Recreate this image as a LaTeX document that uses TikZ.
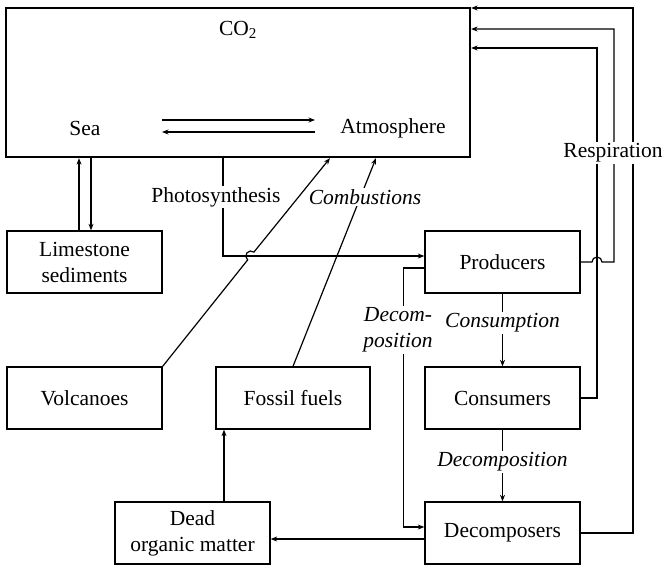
\documentclass[tikz,border=0pt]{standalone}
\usepackage{fontspec}
\setmainfont{Liberation Serif}
\usetikzlibrary{arrows.meta}
\begin{document}
\begin{tikzpicture}[x=1pt,y=-1pt,
  every node/.style={font=\fontsize{21.5}{26}\selectfont, inner sep=1pt},
  box/.style={draw, line width=1.3pt, minimum width=155pt, minimum height=62pt, align=center},
  lbl/.style={fill=white, inner sep=1.5pt, align=center},
  ilbl/.style={lbl, font=\fontsize{21.5}{26}\selectfont\itshape},
  conn/.style={line width=1.2pt},
  arr/.style={conn, -{Stealth[length=6.5pt,width=5pt]}}]
\useasboundingbox (0,0) rectangle (667,566);
% main box
\node[draw, line width=2.2pt, minimum width=464pt, minimum height=149pt] (co2) at (238,82.5) {};
\node (co2t) at (238,30) {CO\textsubscript{2}};
\node (sea) at (85,128) {Sea};
\node (atm) at (393,128) {Atmosphere};
\coordinate (sa1) at (162,120);
\coordinate (sa2) at (315,120);
\coordinate (sb1) at (315,132);
\coordinate (sb2) at (162,132);
\draw[arr] (sa1) -- (sa2);
\draw[arr] (sb1) -- (sb2);
% boxes
\node[box] (lime) at (84.5,262) {Limestone\\sediments};
\node[box] (volc) at (84.5,398) {Volcanoes};
\node[box, minimum width=154pt] (fossil) at (293,398) {Fossil fuels};
\node[box] (dead) at (192.5,533) {Dead\\organic matter};
\node[box] (prod) at (502.5,262) {Producers};
\node[box] (cons) at (502.5,398) {Consumers};
\node[box] (decomp) at (502.5,533) {Decomposers};
% limestone exchange
\coordinate (l1) at ([xshift=-5.5pt]lime.north);
\coordinate (l2) at ([xshift=6.5pt]lime.north);
\draw[arr] (l1) -- (l1 |- co2.south);
\draw[arr] (l2 |- co2.south) -- (l2);
% photosynthesis
\coordinate (phx) at (223,0);
\draw[arr] (co2.south -| phx) |- ([yshift=6pt]prod.west);
\node[lbl] (phl) at (216,197) {Photosynthesis};
% volcanoes with hop
\coordinate (vx) at (330,0);
\coordinate (hopA) at (247.68,259.9);
\draw[arr] (volc.north east) -- (hopA) arc[start angle=231.34, end angle=51.34, radius=5pt] -- (co2.south -| vx);
% combustions
\coordinate (cx) at (376,0);
\draw[arr] (fossil.north) -- (co2.south -| cx);
\node[ilbl] (coml) at (365,197) {Combustions};
% producers -> consumers -> decomposers
\draw[arr] (prod.south) -- (cons.north);
\node[ilbl] (cnl) at (502.5,323) {Consumption};
\draw[arr] (cons.south) -- (decomp.north);
\node[ilbl] (dcl) at (502.5,462) {Decomposition};
% producers -> decomposers
\draw[arr] ([yshift=-6pt]prod.west) -- ++(-21,0) |- ([yshift=6pt]decomp.west);
\node[ilbl] (dcl2) at (398,330) {Decom-\\position};
% decomposers -> dead
\coordinate (dd) at ([yshift=-6pt]decomp.west);
\draw[arr] (dd) -- (dd -| dead.east);
% dead -> fossil
\coordinate (dx) at (224,0);
\draw[arr] (dead.north -| dx) -- (fossil.south -| dx);
% respiration
\coordinate (r1) at (597,48);
\coordinate (r2) at (614,29);
\coordinate (r3) at (633,8);
\coordinate (hB) at (592,262);
\draw[arr] (cons.east) -| (r1) -- (co2.east |- r1);
\draw[arr] (prod.east) -- (hB) arc[start angle=180, end angle=0, radius=5pt] -| (r2) -- (co2.east |- r2);
\draw[arr] (decomp.east) -| (r3) -- (co2.east |- r3);
\node[lbl] (resp) at (613,153) {Respiration};
\end{tikzpicture}
\end{document}
